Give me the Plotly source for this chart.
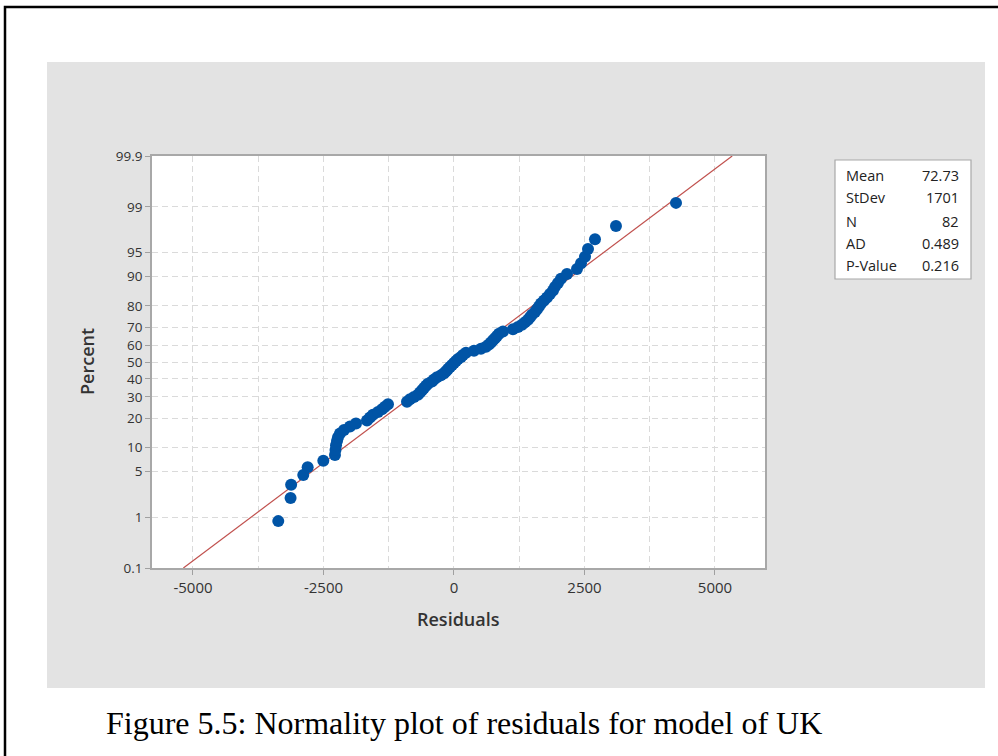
import plotly.graph_objects as go
from statistics import NormalDist

# ---------------- data ----------------
residuals = [
    -3366, -3130, -3120, -2887, -2803, -2503, -2280, -2270, -2260, -2241,
    -2222, -2184, -2107, -1992, -1877, -1667, -1609, -1552, -1456, -1379,
    -1322, -1264, -900, -843, -766, -690, -651, -613, -575, -536,
    -498, -421, -383, -326, -249, -192, -153, -115, -77, -38,
    0, 38, 77, 134, 172, 230, 383, 517, 613, 670,
    709, 747, 785, 824, 862, 939, 1130, 1226, 1303, 1360,
    1418, 1456, 1494, 1552, 1590, 1628, 1667, 1724, 1782, 1839,
    1897, 1935, 1992, 2050, 2165, 2356, 2433, 2510, 2567, 2701,
    3103, 4253,
]
fit_mean = 72.73
fit_stdev = 1701
pct_ticks = [0.1, 1, 5, 10, 20, 30, 40, 50, 60, 70, 80, 90, 95, 99, 99.9]
pct_labels = ["0.1", "1", "5", "10", "20", "30", "40", "50", "60", "70",
              "80", "90", "95", "99", "99.9"]
x_ticks = [-5000, -2500, 0, 2500, 5000]
x_tick_labels = ["-5000", "-2500", "0", "2500", "5000"]
stats_labels = ["Mean", "StDev", "N", "AD", "P-Value"]
stats_values = ["72.73", "1701", "82", "0.489", "0.216"]
caption = "Figure 5.5: Normality plot of residuals for model of UK"

# ---------------- computation ----------------
nd = NormalDist()
n = len(residuals)
xs = sorted(residuals)
zs = [nd.inv_cdf((i + 1 - 0.3) / (n + 0.4)) for i in range(n)]
z_lo, z_hi = nd.inv_cdf(0.001), nd.inv_cdf(0.999)
line_z = [z_lo, z_hi]
line_x = [fit_mean + fit_stdev * z for z in line_z]
ytickvals = [nd.inv_cdf(p / 100.0) for p in pct_ticks]

# ---------------- layout geometry ----------------
W, H = 998, 756
L, R, T, B = 152, 765, 156, 568  # plot area in pixels


def px(x):
    return (x - L) / (R - L)


def py(y):
    return (B - y) / (B - T)


FONT = "Open Sans"
TICK_COLOR = "#333333"

fig = go.Figure()
fig.add_trace(go.Scatter(
    x=line_x, y=line_z, mode="lines",
    line=dict(color="#c0504d", width=1.2),
    hoverinfo="skip", showlegend=False,
))
fig.add_trace(go.Scatter(
    x=xs, y=zs, mode="markers",
    marker=dict(color="#0054a6", size=12, line=dict(width=0)),
    showlegend=False,
))

shapes = [
    # gray panel
    dict(type="rect", xref="paper", yref="paper", x0=px(47), x1=px(985),
         y0=py(688), y1=py(62), fillcolor="#e3e3e3", line=dict(width=0),
         layer="below"),
    # white plot area
    dict(type="rect", xref="paper", yref="paper", x0=0, x1=1, y0=0, y1=1,
         fillcolor="white", line=dict(width=0), layer="below"),
    # stats box
    dict(type="rect", xref="paper", yref="paper", x0=px(835), x1=px(971),
         y0=py(279), y1=py(160), fillcolor="white",
         line=dict(color="#a8a8a8", width=1.2), layer="above"),
    # outer black frame
    dict(type="rect", xref="paper", yref="paper", x0=px(5), x1=px(1004),
         y0=py(800), y1=py(7), fillcolor="rgba(0,0,0,0)",
         line=dict(color="black", width=2.5), layer="above"),
]

annotations = []
row_y = [175, 198, 221, 243, 265]
for lab, val, yy in zip(stats_labels, stats_values, row_y):
    annotations.append(dict(
        xref="paper", yref="paper", x=px(844), y=py(yy), text=lab,
        showarrow=False, xanchor="left", yanchor="middle",
        font=dict(family=FONT, size=14.5, color="#222")))
    annotations.append(dict(
        xref="paper", yref="paper", x=px(961), y=py(yy), text=val,
        showarrow=False, xanchor="right", yanchor="middle",
        font=dict(family=FONT, size=14.5, color="#222")))

annotations.append(dict(
    xref="paper", yref="paper", x=px(458), y=py(619), text="Residuals",
    showarrow=False, xanchor="center", yanchor="middle",
    font=dict(family=FONT, size=18, color="#333", weight=600)))
annotations.append(dict(
    xref="paper", yref="paper", x=px(87), y=py(362), text="Percent",
    showarrow=False, xanchor="center", yanchor="middle", textangle=-90,
    font=dict(family=FONT, size=18, color="#333", weight=600)))
annotations.append(dict(
    xref="paper", yref="paper", x=px(104), y=py(723), text=caption,
    showarrow=False, xanchor="left", yanchor="middle",
    font=dict(family="Liberation Serif", size=32, color="black")))

fig.update_layout(
    width=W, height=H,
    margin=dict(l=L, r=W - R, t=T, b=H - B, pad=0),
    paper_bgcolor="white", plot_bgcolor="white",
    shapes=shapes, annotations=annotations,
    showlegend=False,
    xaxis=dict(
        range=[-5785, 5958], tickvals=x_ticks, ticktext=x_tick_labels,
        ticks="outside", ticklen=5, tickcolor="#a0a0a0",
        tickfont=dict(family=FONT, size=15, color=TICK_COLOR),
        showline=True, linecolor="#a8a8a8", linewidth=1.5, mirror=True,
        showgrid=True, gridcolor="#dadada", gridwidth=1, griddash="6px,4px",
        minor=dict(dtick=1250, tick0=0, showgrid=True, gridcolor="#dadada",
                   griddash="6px,4px", ticks=""),
        zeroline=False,
    ),
    yaxis=dict(
        range=[z_lo, z_hi], tickvals=ytickvals, ticktext=pct_labels,
        ticks="outside", ticklen=5, tickcolor="#a0a0a0",
        tickfont=dict(family=FONT, size=13.5, color=TICK_COLOR),
        showline=True, linecolor="#a8a8a8", linewidth=1.5, mirror=True,
        showgrid=True, gridcolor="#dadada", gridwidth=1, griddash="6px,4px",
        zeroline=False,
    ),
)

fig.write_html("out.html")
